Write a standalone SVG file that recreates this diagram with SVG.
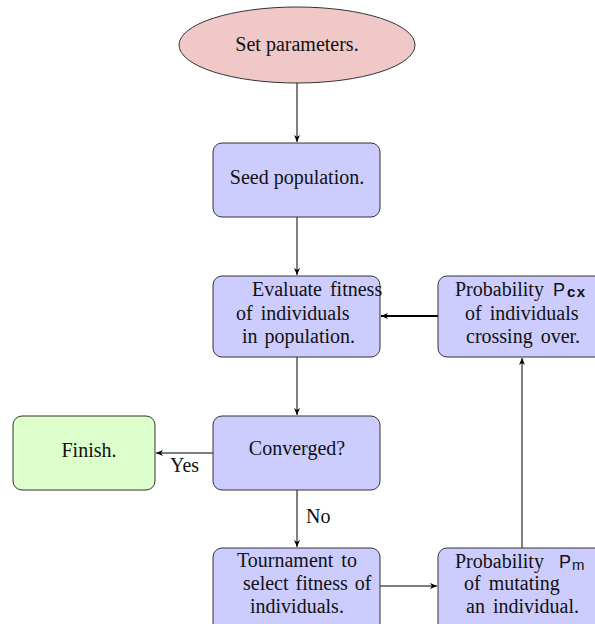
<svg xmlns="http://www.w3.org/2000/svg" width="595" height="624" viewBox="0 0 595 624">
<defs>
<marker id="ah" markerWidth="8" markerHeight="8" refX="7" refY="4" orient="auto" markerUnits="userSpaceOnUse">
<path d="M0,1 L7,4 L0,7 L2,4 Z" fill="#000"/>
</marker>
<style>
.box{fill:#ccccff;stroke:#333;stroke-width:1}
.t{font-family:"Liberation Serif","Times New Roman",serif;font-size:20px;fill:#111}
.s{font-family:"Liberation Sans",Arial,sans-serif}
.c{stroke:#000;stroke-width:1;fill:none}
</style>
</defs>
<rect width="595" height="624" fill="#fff"/>
<g id="connectors">
<line class="c" x1="297" y1="83" x2="297" y2="142" marker-end="url(#ah)"/>
<line class="c" x1="297" y1="217" x2="297" y2="275" marker-end="url(#ah)"/>
<line class="c" x1="297" y1="357" x2="297" y2="415" marker-end="url(#ah)"/>
<line class="c" x1="213" y1="453" x2="156" y2="453" marker-end="url(#ah)"/>
<line class="c" x1="297" y1="490" x2="297" y2="547" marker-end="url(#ah)"/>
<line class="c" x1="380" y1="586" x2="437" y2="586" marker-end="url(#ah)"/>
<line class="c" x1="522" y1="548" x2="522" y2="358" marker-end="url(#ah)"/>
<line class="c" x1="438" y1="316" x2="381" y2="316" marker-end="url(#ah)" style="stroke-width:2"/>
<text class="t" x="170" y="472">Yes</text>
<text class="t" x="306" y="523">No</text>
</g>
<g id="set-parameters">
<ellipse cx="297" cy="45" rx="118" ry="38" fill="#f0c8c8" stroke="#333"/>
<text class="t" x="297" y="51" text-anchor="middle">Set parameters.</text>
</g>
<g id="seed-population">
<rect class="box" x="213" y="143" width="167" height="74" rx="9"/>
<text class="t" x="297" y="184" text-anchor="middle">Seed population.</text>
</g>
<g id="evaluate">
<rect class="box" x="213" y="276" width="167" height="81" rx="9"/>
<text class="t" x="252" y="296" word-spacing="3">Evaluate fitness</text>
<text class="t" x="236" y="320" word-spacing="3">of individuals</text>
<text class="t" x="242" y="343" word-spacing="2">in population.</text>
</g>
<g id="crossover">
<rect class="box" x="438" y="276" width="170" height="81" rx="9"/>
<text class="t" x="455" y="296">Probability <tspan class="s" x="553" style="font-size:18px">P</tspan><tspan class="s" x="567" dy="1" style="font-size:15px;font-weight:bold;letter-spacing:1.5px">cx</tspan></text>
<text class="t" x="465" y="320" word-spacing="3">of individuals</text>
<text class="t" x="466" y="343" word-spacing="3">crossing over.</text>
</g>
<g id="converged">
<rect class="box" x="213" y="416" width="167" height="74" rx="9"/>
<text class="t" x="297" y="455" text-anchor="middle">Converged?</text>
</g>
<g id="finish">
<rect x="13" y="416" width="142" height="74" rx="9" fill="#ddffcc" stroke="#333"/>
<text class="t" x="89" y="457" text-anchor="middle">Finish.</text>
</g>
<g id="tournament">
<rect class="box" x="213" y="548" width="167" height="90" rx="9"/>
<text class="t" x="237" y="567" word-spacing="3">Tournament to</text>
<text class="t" x="243" y="590" fill="#444" word-spacing="2">select fitness of</text>
<text class="t" x="250" y="613">individuals.</text>
</g>
<g id="mutation">
<rect class="box" x="438" y="548" width="170" height="90" rx="9"/>
<text class="t" x="455" y="568">Probability <tspan class="s" x="559" style="font-size:18px">P</tspan><tspan class="s" x="572" dy="2" style="font-size:15px">m</tspan></text>
<text class="t" x="464" y="590" word-spacing="3">of mutating</text>
<text class="t" x="466" y="613" word-spacing="3">an individual.</text>
</g>
</svg>
